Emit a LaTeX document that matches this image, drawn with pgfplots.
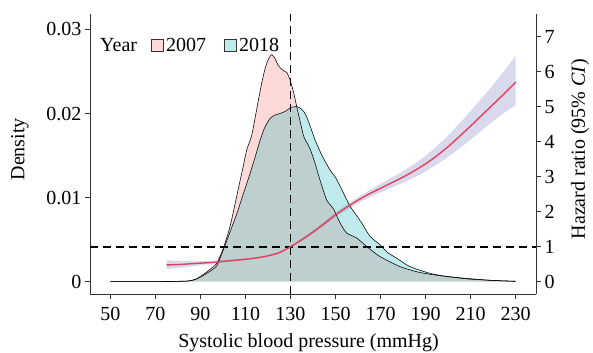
\documentclass[border=0pt]{standalone}
\usepackage{pgfplots}
\pgfplotsset{compat=1.18}
\usepackage{pgfplotstable}
\usepgfplotslibrary{fillbetween}
\usepackage{fontspec}
\setmainfont{Liberation Serif}
\definecolor{pinkf}{RGB}{248,118,109}
\definecolor{tealf}{RGB}{20,180,186}
\definecolor{bandc}{RGB}{120,120,190}
\definecolor{hrred}{RGB}{228,64,92}
\definecolor{axgray}{RGB}{51,51,51}

\pgfplotstableread{
x d
50 0
60 0
70 0.00001
80 0.00005
85 0.0001
88 0.0003
91 0.0008
94 0.0014
97.3 0.0022
100.2 0.0040
103.2 0.0066
106 0.0100
109 0.0137
110.6 0.0157
112.8 0.0174
115 0.0205
117.2 0.0236
119 0.0256
120.5 0.0266
121.7 0.0270
123 0.0266
124.6 0.0257
126.8 0.0251
128.3 0.0249
129.8 0.0240
131.3 0.0226
132.8 0.0208
134.5 0.0188
136 0.0172
138.7 0.0158
141 0.0140
143.1 0.0121
146.1 0.0097
149 0.0087
152 0.0070
154.9 0.0058
159.4 0.0052
163.8 0.0042
169.7 0.0030
178.6 0.0018
187.4 0.0011
197 0.0007
208 0.0004
220 0.00015
230 0.00005
}\dA

\pgfplotstableread{
x d
50 0
60 0
70 0.00001
80 0.00004
85 0.0001
88 0.0003
91 0.0007
94 0.0012
97.3 0.0019
100.2 0.0038
103 0.0058
106.2 0.0081
109 0.0104
112.1 0.0129
114.5 0.0150
116.5 0.0168
118.5 0.0183
120.9 0.0194
123 0.0198
125.4 0.0200
128 0.0203
130 0.0207
131.8 0.0208
133 0.0208
134.5 0.0206
136 0.0202
137.2 0.0196
139 0.0183
141 0.0168
144 0.0150
147.5 0.0133
150 0.0124
152.7 0.0110
154.5 0.0100
156.4 0.0090
159 0.0080
161.6 0.0070
165.3 0.0054
169.7 0.0044
173 0.0035
177.1 0.0028
183 0.0018
191.9 0.0010
200 0.0006
210 0.0003
220 0.00015
230 0.00005
}\dB

\pgfplotstableread{
x hr lo hi
75 0.48 0.36 0.62
80 0.49 0.39 0.59
85 0.51 0.43 0.59
90 0.53 0.47 0.59
95 0.55 0.51 0.60
100 0.58 0.55 0.62
105 0.61 0.58 0.64
110 0.64 0.62 0.67
115 0.68 0.66 0.71
120 0.74 0.72 0.76
125 0.83 0.81 0.85
130 1.00 0.98 1.02
135 1.20 1.16 1.24
140 1.42 1.37 1.47
145 1.66 1.60 1.72
150 1.91 1.84 1.98
155 2.13 2.05 2.21
160 2.33 2.24 2.42
165 2.51 2.41 2.61
170 2.67 2.55 2.80
175 2.83 2.69 2.98
180 2.99 2.83 3.16
185 3.17 2.98 3.37
190 3.37 3.15 3.60
195 3.60 3.35 3.87
200 3.86 3.57 4.18
205 4.15 3.81 4.52
210 4.45 4.06 4.88
215 4.76 4.33 5.25
220 5.07 4.59 5.63
225 5.38 4.83 6.03
230 5.70 5.05 6.46
}\hr

\begin{document}
\begin{tikzpicture}
\pgfplotsset{
  base/.style={
    scale only axis, width=446bp, height=280bp,
    xmin=41, xmax=239,
    font=\fontsize{20bp}{24bp}\selectfont,
    tick align=outside, major tick length=5bp,
    tick style={axgray, line width=0.8bp},
    axis line style={axgray, line width=0.8bp, -},
    /pgf/number format/assume math mode=true,
  }
}
\begin{axis}[base,
  ymin=-0.00146, ymax=0.03183,
  axis x line*=bottom, axis y line*=left,
  xtick={50,70,...,230},
  ytick={0,0.01,0.02,0.03}, yticklabels={0,0.01,0.02,0.03},
  scaled y ticks=false,
  xticklabel style={yshift=-5bp},
  xlabel={Systolic blood pressure (mmHg)},
  every axis x label/.style={at={(axis description cs:0.49,0)}, anchor=base, yshift=-53bp},
  ylabel={Density},
  every axis y label/.style={at={(axis description cs:-0.157,0.517)}, rotate=90, anchor=center},
]
\addplot[draw=none, fill=pinkf, fill opacity=0.27, smooth, tension=0.4] table[x=x,y=d]{\dA} \closedcycle;
\addplot[draw=none, fill=tealf, fill opacity=0.27, smooth, tension=0.4] table[x=x,y=d]{\dB} \closedcycle;
\addplot[black, line width=0.55bp, smooth, tension=0.4] table[x=x,y=d]{\dA};
\addplot[black, line width=0.55bp, smooth, tension=0.4] table[x=x,y=d]{\dB};
\coordinate (bl) at (rel axis cs:0,0);
\coordinate (tl) at (rel axis cs:0,1);
\end{axis}
\begin{axis}[base,
  ymin=-0.351, ymax=7.649,
  axis y line*=right, axis x line=none,
  ytick={0,1,...,7},
  ylabel={Hazard ratio (95\% \textit{CI})},
  every axis y label/.style={at={(axis description cs:1.099,0.517)}, rotate=90, anchor=center},
]
\draw[black, line width=1.8bp, dash pattern=on 8bp off 5bp] (axis cs:41,1) -- (axis cs:239,1);
\draw[black, line width=1.8bp, dash pattern=on 8bp off 5bp] (axis cs:130,-0.351) -- (axis cs:130,7.649);
\addplot[name path=lo, draw=none, smooth] table[x=x,y=lo]{\hr};
\addplot[name path=hi, draw=none, smooth] table[x=x,y=hi]{\hr};
\addplot[bandc, fill opacity=0.28, draw=none] fill between[of=lo and hi];
\addplot[hrred, line width=1.4bp, smooth] table[x=x,y=hr]{\hr};
\end{axis}
\begin{scope}[font=\fontsize{20bp}{24bp}\selectfont]
\node[anchor=base west, inner sep=0] at ([shift={(10bp,-38bp)}]tl) {Year};
\fill[pinkf, fill opacity=0.27] ([shift={(61bp,-37bp)}]tl) rectangle ++(12bp,12bp);
\draw[axgray, line width=0.6bp] ([shift={(61bp,-37bp)}]tl) rectangle ++(12bp,12bp);
\node[anchor=base west, inner sep=0] at ([shift={(76bp,-38bp)}]tl) {2007};
\fill[tealf, fill opacity=0.27] ([shift={(134bp,-37bp)}]tl) rectangle ++(12bp,12bp);
\draw[axgray, line width=0.6bp] ([shift={(134bp,-37bp)}]tl) rectangle ++(12bp,12bp);
\node[anchor=base west, inner sep=0] at ([shift={(149bp,-38bp)}]tl) {2018};
\end{scope}
\pgfresetboundingbox
\path[use as bounding box] ([shift={(-90bp,-59bp)}]bl) rectangle ([shift={(503bp,294bp)}]bl);
\end{tikzpicture}
\end{document}
